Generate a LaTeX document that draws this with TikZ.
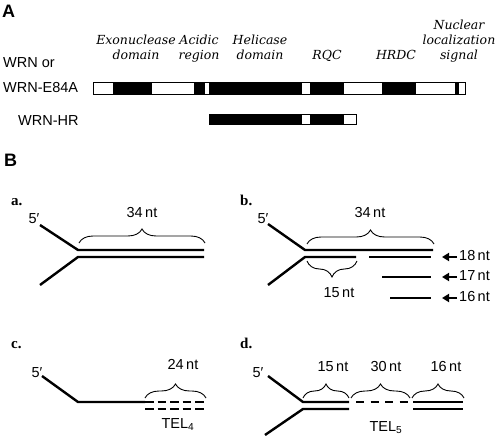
\documentclass[tikz,border=0pt]{standalone}
\usepackage{fontspec}
\setsansfont{Liberation Sans}
\newfontfamily\domainfont{DejaVu Serif}
\newfontfamily\tagfont{Liberation Serif}
\usetikzlibrary{arrows.meta,decorations.pathreplacing}
\begin{document}
\begin{tikzpicture}[font=\sffamily\fontsize{14.5}{16}\selectfont,x=1pt,y=-1pt,
  strand/.style={line width=2.4pt},
  span/.style={decorate,decoration={brace,amplitude=14pt},line width=0.9pt},
  dom/.style={font=\domainfont\itshape\fontsize{12.5}{15}\selectfont,align=center,anchor=base,inner sep=0pt},
  tag/.style={font=\tagfont\bfseries\fontsize{15}{17}\selectfont,anchor=base west,inner sep=0pt},
  head/.style={font=\sffamily\bfseries\fontsize{18}{20}\selectfont,anchor=base west,inner sep=0pt},
  probe/.style={line width=2pt,-{Triangle[length=7pt,width=8pt]}}]
\useasboundingbox (0,0) rectangle (498,441);
% A: domain map
\node[head] (hA) at (2,18) {A};
\node[anchor=base west,inner sep=0pt] (wrnor) at (3,68) {WRN or};
\node[anchor=base west,inner sep=0pt] (wrn) at (3,93) {WRN-E84A};
\node[anchor=base west,inner sep=0pt] (wrnhr) at (18,126) {WRN-HR};
\node[dom] (exo) at (136,60) {Exonuclease\\domain};
\node[dom] (acid) at (199,60) {Acidic\\region};
\node[dom] (heli) at (260,60) {Helicase\\domain};
\node[dom] (rqc) at (327,60) {RQC};
\node[dom] (hrdc) at (396,60) {HRDC};
\node[dom] (nls) at (459,60) {Nuclear\\localization\\signal};
\foreach \a/\b in {113/152,194/205,209/302,310/344,382/416,455/459}
  \fill (\a,82) rectangle (\b,94);
\draw[line width=0.9pt] (93,82) rectangle (465,94);
\foreach \a/\b in {209/302,310/344}
  \fill (\a,114) rectangle (\b,124);
\draw[line width=0.9pt] (209,114) rectangle (356,124);
% B: substrates
\node[head] (hB) at (4,167) {B};
% a.
\node[tag] (ta) at (11,205) {a.};
\node (pa) at (34,219) {5′};
\draw[strand] (40,225)--(78,250)--(204,250);
\draw[strand] (40,285)--(78,257)--(204,257);
\draw[span] (79,243)--(205,243);
\node (na) at (142,213) {34\,nt};
% b.
\node[tag] (tb) at (240,205) {b.};
\node (pb) at (263,219) {5′};
\draw[strand] (268,224)--(305,250)--(433,250);
\draw[strand] (268,285)--(305,257)--(356,257);
\draw[strand] (369,257)--(431,257);
\draw[strand] (382,277)--(431,277);
\draw[strand] (390,298)--(431,298);
\draw[span] (307,244)--(434,244);
\node (nb) at (370,213) {34\,nt};
\draw[span,decoration={mirror,amplitude=16pt}] (307,261)--(357,261);
\node (nb15) at (339,293) {15\,nt};
\foreach \y/\n in {257/18,277/17,298/16}{
  \draw[probe] (457,\y)--(442,\y);
  \node[anchor=west,inner sep=0pt] (p\n) at (459,\y-1) {\n\,nt};
}
% c.
\node[tag] (tc) at (11,348) {c.};
\node (pc) at (37,373) {5′};
\draw[strand] (42,376)--(78,402)--(145,402);
\draw[strand,dash pattern=on 8.5pt off 4pt] (145,402)--(206,402);
\draw[strand,dash pattern=on 8.5pt off 4pt] (145,409)--(206,409);
\draw[span] (145,398)--(206,398);
\node (nc) at (183,364) {24\,nt};
\node[anchor=base] (tel4) at (178,428) {TEL\textsubscript{4}};
% d.
\node[tag] (td) at (240,348) {d.};
\node (pd) at (258,373) {5′};
\draw[strand] (268,376)--(303,402)--(349,402);
\draw[strand] (265,435)--(303,409)--(349,409);
\draw[strand,dash pattern=on 8pt off 6.5pt] (356,402)--(409,402);
\draw[strand] (413,402)--(463,402);
\draw[strand] (413,409)--(463,409);
\draw[span] (303,398)--(349,398);
\draw[span] (351,398)--(410,398);
\draw[span] (412,398)--(464,398);
\node (nd15) at (333,367) {15\,nt};
\node (nd30) at (386,367) {30\,nt};
\node (nd16) at (446,367) {16\,nt};
\node[anchor=base] (tel5) at (386,431) {TEL\textsubscript{5}};
\end{tikzpicture}
\end{document}
